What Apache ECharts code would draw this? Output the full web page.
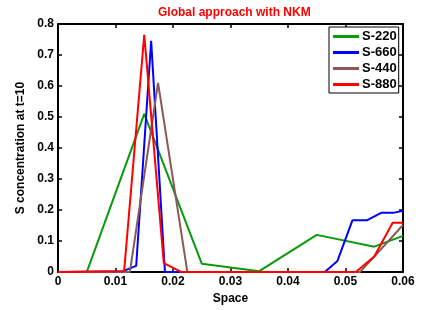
<!DOCTYPE html>
<html>
<head>
<meta charset="utf-8">
<script src="https://cdn.jsdelivr.net/npm/echarts@6/dist/echarts.min.js"></script>
<style>html,body{margin:0;padding:0;background:#fff}#c{width:445px;height:310px}</style>
</head>
<body>
<div id="c"></div>
<script>
const seriesNames = ['S-220', 'S-660', 'S-440', 'S-880'];
const xTicks = [0, 0.01, 0.02, 0.03, 0.04, 0.05, 0.06];
const yTicks = [0, 0.1, 0.2, 0.3, 0.4, 0.5, 0.6, 0.7, 0.8];

const s220x = [0, 0.005, 0.015, 0.025, 0.035, 0.045, 0.055, 0.06];
const s220y = [0, 0, 0.51, 0.027, 0.003, 0.12, 0.082, 0.117];

const s660x = [0.0012, 0.0113, 0.0136, 0.0162, 0.0186, 0.0464, 0.0486, 0.0512, 0.0537, 0.0562, 0.0583, 0.06];
const s660y = [0, 0.003, 0.02, 0.746, 0, 0, 0.036, 0.167, 0.167, 0.191, 0.191, 0.198];

const s440x = [0, 0.0125, 0.0174, 0.0225, 0.0525, 0.055, 0.06];
const s440y = [0, 0, 0.61, 0, 0, 0.05, 0.152];

const s880x = [0, 0.0115, 0.015, 0.0184, 0.0215, 0.0518, 0.055, 0.0582, 0.06];
const s880y = [0, 0.003, 0.765, 0.029, 0, 0, 0.05, 0.159, 0.159];

const colors = ['#0a9a0a', '#0000ff', '#8b5757', '#ff0000'];
const xs = [s220x, s660x, s440x, s880x];
const ys = [s220y, s660y, s440y, s880y];

const font = 'Liberation Sans, Arial, Helvetica, sans-serif';
const chart = echarts.init(document.getElementById('c'));

function fmt(v) { return v === 0 ? '0' : String(+v.toFixed(2)); }
const axisLine = { show: true, onZero: false, lineStyle: { color: '#000', width: 2 } };
const axisTick = { show: true, inside: true, length: 4, lineStyle: { color: '#000', width: 1.5 } };

chart.setOption({
  animation: false,
  title: {
    text: 'Global approach with NKM',
    left: 153, top: 2,
    textStyle: { color: '#ff0000', fontSize: 12, fontWeight: 'bold', fontFamily: font }
  },
  grid: { left: 58, right: 42, top: 24, bottom: 35 },
  legend: {
    data: seriesNames,
    orient: 'vertical',
    left: 329, top: 27,
    padding: [3, 2, 2, 4],
    itemGap: 3,
    itemWidth: 26, itemHeight: 3,
    icon: 'rect',
    borderColor: '#000', borderWidth: 1, backgroundColor: '#fff',
    textStyle: { fontSize: 13, fontWeight: 'bold', fontFamily: font, color: '#000', padding: [0, 0, 0, -2], lineHeight: 13 }
  },
  xAxis: [{
    type: 'value', min: 0, max: 0.06, interval: 0.01,
    name: 'Space', nameLocation: 'middle', nameGap: 16,
    nameTextStyle: { fontSize: 12, fontWeight: 'bold', fontFamily: font, color: '#000' },
    axisLine: axisLine, axisTick: axisTick, splitLine: { show: false },
    axisLabel: { fontSize: 12, fontWeight: 'bold', fontFamily: font, color: '#000', margin: 4, formatter: fmt }
  }, {
    type: 'value', min: 0, max: 0.06, interval: 0.01, position: 'top',
    axisLine: axisLine, axisTick: axisTick, splitLine: { show: false },
    axisLabel: { show: false }
  }],
  yAxis: [{
    type: 'value', min: 0, max: 0.8, interval: 0.1,
    name: 'S concentration at t=10', nameLocation: 'middle', nameGap: 31,
    nameTextStyle: { fontSize: 12, fontWeight: 'bold', fontFamily: font, color: '#000' },
    axisLine: axisLine, axisTick: axisTick, splitLine: { show: false },
    axisLabel: { fontSize: 12, fontWeight: 'bold', fontFamily: font, color: '#000', margin: 4, formatter: fmt }
  }, {
    type: 'value', min: 0, max: 0.8, interval: 0.1, position: 'right',
    axisLine: axisLine, axisTick: axisTick, splitLine: { show: false },
    axisLabel: { show: false }
  }],
  series: seriesNames.map((n, i) => ({
    name: n, type: 'line', showSymbol: false, symbol: 'none',
    xAxisIndex: 0, yAxisIndex: 0,
    color: colors[i],
    lineStyle: { width: 2, color: colors[i] },
    data: xs[i].map((x, j) => [x, ys[i][j]]),
    z: 2
  }))
});
</script>
</body>
</html>
